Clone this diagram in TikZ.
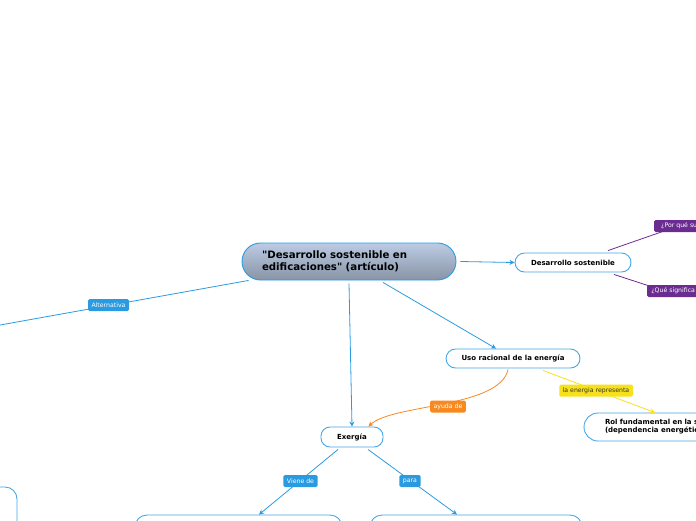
\documentclass[tikz,border=0pt]{standalone}
\usepackage{fontspec}
\setmainfont{DejaVu Sans}
\usetikzlibrary{calc,arrows.meta}
\definecolor{lblue}{HTML}{2A9BE0}
\definecolor{nblue}{HTML}{45A7E6}
\definecolor{lpurple}{HTML}{6B2C91}
\definecolor{lorange}{HTML}{F7891F}
\definecolor{lyellow}{HTML}{F7E11A}
\definecolor{ctop}{RGB}{188,204,228}
\definecolor{cbot}{RGB}{136,148,166}
\tikzset{
  topic/.style={draw=nblue, line width=0.9pt, fill=white, inner sep=0pt,
    font=\bfseries\fontsize{7}{8.5}\selectfont, text=black},
  central/.style={draw=lblue, line width=0.9pt, top color=ctop, bottom color=cbot,
    rounded corners=18.5pt, inner xsep=20pt, inner ysep=0pt, align=left,
    font=\bfseries\fontsize{10.2}{12.5}\selectfont},
  conn/.style={draw=lblue, line width=0.8pt},
  arr/.style={-{Stealth[length=5pt,width=5pt]}},
  lbl/.style={fill=lblue, text=white, rounded corners=1.5pt, inner xsep=3.5pt,
    inner ysep=0pt, minimum height=12pt, font=\fontsize{6.2}{7}\selectfont},
}
\begin{document}
\begin{tikzpicture}[x=1pt,y=-1pt]
\useasboundingbox (0,0) rectangle (696,520);
\clip (0,0) rectangle (696,520);

% nodes
\node[central, minimum width=214pt, minimum height=37pt, text width=174pt] (c) at (349,261.5)
  {\textquotedbl Desarrollo sostenible en\\edificaciones\textquotedbl{} (artículo)};
\node[topic, rounded corners=9.5pt, minimum width=116pt, minimum height=19pt] (ds) at (573,262.5) {Desarrollo sostenible};
\node[topic, rounded corners=9.5pt, minimum width=134pt, minimum height=19pt] (uso) at (513,358.5) {Uso racional de la energía};
\node[topic, rounded corners=9pt, minimum width=62pt, minimum height=20pt] (ex) at (352,437) {Exergía};
\node[topic, rounded corners=14pt, minimum width=142pt, minimum height=28pt, text width=100pt, align=left, inner xsep=21pt,
  font=\bfseries\fontsize{7}{8}\selectfont] (rol) at (655,427)
  {Rol fundamental en la s\\(dependencia energétic};
\node[topic, rounded corners=12pt, minimum width=200pt, minimum height=90pt] (lft) at (-83,532) {};
\node[topic, rounded corners=12pt, minimum width=207pt, minimum height=50pt] (bl) at (238.5,540) {};
\node[topic, rounded corners=12pt, minimum width=212pt, minimum height=50pt] (br) at (476,540) {};

\coordinate (altend) at (-20,328.6);

% labels placed first (drawn later on top)
\path (108.5,305) coordinate (plalt);

% connectors
\draw[conn,arr] ($(c.east)+(4,0)$) -- (ds.west);
\draw[conn,arr] ($(c.south)+(34,2)$) -- ($(uso.north)+(-17,0)$);
\draw[conn,arr] ($(c.south)+(0,3)$) -- (ex.north);
\draw[conn] ($(c.south west)+(7,0)$) -- (altend);
\draw[draw=lpurple, line width=0.8pt] ($(ds.north)+(35,-2)$) -- (690,222);
\draw[draw=lpurple, line width=0.8pt] ($(ds.south)+(41,2)$) -- (680,296);
\draw[draw=lorange, line width=0.8pt, -{Stealth[length=5pt,width=5pt]}]
  ($(uso.south)+(-5,1)$) .. controls (500,408) and (392,404) .. ($(ex.north east)+(-15,0)$);
\draw[draw=lyellow, line width=0.8pt, -{Stealth[length=5pt,width=5pt]}]
  ($(uso.south)+(30,2)$) -- (rol.north);
\draw[conn,arr] ($(ex.south)+(-14,2)$) -- ($(bl.north)+(20.5,0)$);
\draw[conn,arr] ($(ex.south)+(16,2)$) -- ($(br.north)+(-19,0)$);

% labels
\node[lbl] (lalt) at (108.5,305) {Alternativa};
\node[lbl, fill=lpurple, anchor=west, minimum width=50pt, align=left] (lpq) at (654,226) {¿Por qué su};
\node[lbl, fill=lpurple, anchor=west, minimum width=52pt, align=left] (lqs) at (647,291) {¿Qué significa};
\node[lbl, fill=lorange] (lay) at (448,406.5) {ayuda de};
\node[lbl, fill=lyellow, text=black!80] (lye) at (596,390.5) {la energia representa};
\node[lbl] (lvd) at (300.5,481) {Viene de};
\node[lbl] (lpa) at (410,481) {para};
\end{tikzpicture}
\end{document}
